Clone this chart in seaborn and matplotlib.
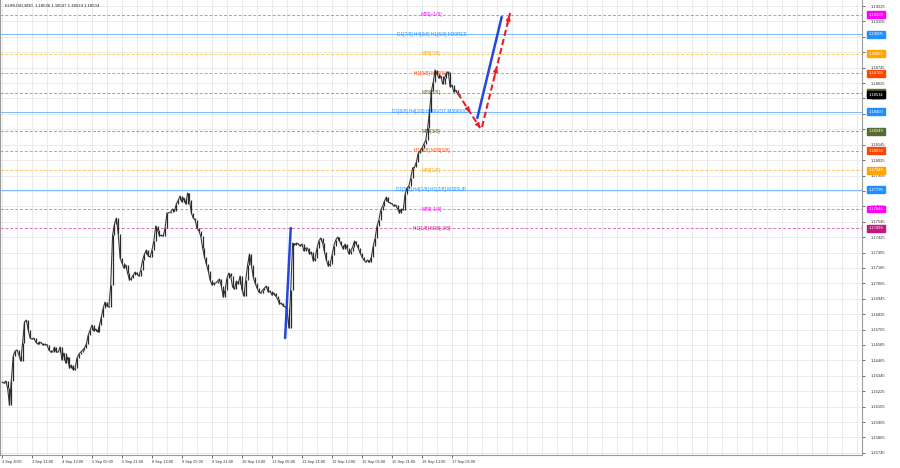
import matplotlib
matplotlib.use("Agg")
import matplotlib.pyplot as plt
import seaborn as sns
import numpy as np
import pandas as pd

# ---------------- data ----------------
# hourly closes (every 2 M30 bars), from 3 Sep 05:00
closes = [
    1.16296, 1.16288, 1.16304, 1.16250, 1.16117, 1.16304, 1.16499, 1.16538, 1.16546, 1.16507,
    1.16460, 1.16600, 1.16764, 1.16779, 1.16701, 1.16639, 1.16631, 1.16639, 1.16608, 1.16592,
    1.16608, 1.16600, 1.16584, 1.16592, 1.16584, 1.16546, 1.16530, 1.16530, 1.16569, 1.16530,
    1.16530, 1.16569, 1.16468, 1.16522, 1.16444, 1.16491, 1.16405, 1.16429, 1.16390, 1.16405,
    1.16483, 1.16514, 1.16530, 1.16546, 1.16561, 1.16592, 1.16662, 1.16701, 1.16740, 1.16694,
    1.16709, 1.16686, 1.16740, 1.16803, 1.16873, 1.16919, 1.16888, 1.16881, 1.17052, 1.17441,
    1.17527, 1.17574, 1.17449, 1.17262, 1.17223, 1.17184, 1.17208, 1.17145, 1.17091, 1.17106,
    1.17130, 1.17153, 1.17137, 1.17122, 1.17169, 1.17247, 1.17293, 1.17325, 1.17278, 1.17270,
    1.17325, 1.17395, 1.17512, 1.17480, 1.17434, 1.17441, 1.17434, 1.17496, 1.17613, 1.17613,
    1.17621, 1.17644, 1.17628, 1.17683, 1.17714, 1.17745, 1.17698, 1.17730, 1.17683, 1.17769,
    1.17714, 1.17613, 1.17574, 1.17558, 1.17496, 1.17473, 1.17434, 1.17340, 1.17270, 1.17215,
    1.17161, 1.17091, 1.17052, 1.17067, 1.17067, 1.17083, 1.17099, 1.17044, 1.16958, 1.17013,
    1.17106, 1.17145, 1.17122, 1.17036, 1.17021, 1.17083, 1.17060, 1.17122, 1.17013, 1.16966,
    1.17091, 1.17208, 1.17293, 1.17208, 1.17114, 1.17067, 1.17029, 1.16997, 1.16990, 1.17013,
    1.17029, 1.17044, 1.16997, 1.17005, 1.16974, 1.16990, 1.16966, 1.16943, 1.16904, 1.16912,
    1.16888, 1.16881, 1.16865, 1.16717, 1.17013, 1.17379, 1.17363, 1.17379, 1.17371, 1.17356,
    1.17371, 1.17317, 1.17340, 1.17340, 1.17293, 1.17309, 1.17239, 1.17262, 1.17340, 1.17395,
    1.17418, 1.17379, 1.17309, 1.17247, 1.17200, 1.17215, 1.17286, 1.17356, 1.17402, 1.17426,
    1.17395, 1.17363, 1.17332, 1.17371, 1.17340, 1.17293, 1.17317, 1.17348, 1.17395, 1.17371,
    1.17340, 1.17301, 1.17270, 1.17247, 1.17231, 1.17247, 1.17231, 1.17270, 1.17356, 1.17418,
    1.17512, 1.17558, 1.17636, 1.17667, 1.17706, 1.17737, 1.17698, 1.17691, 1.17683, 1.17667,
    1.17675, 1.17644, 1.17613, 1.17644, 1.17636, 1.17761, 1.17808, 1.17823, 1.17885, 1.17963,
    1.17971, 1.18010, 1.18080, 1.18096, 1.18119, 1.18150, 1.18181, 1.18275, 1.18400, 1.18563,
    1.18633, 1.18727, 1.18696, 1.18664, 1.18680, 1.18618, 1.18664, 1.18703, 1.18711, 1.18594,
    1.18610, 1.18555, 1.18571, 1.18540, 1.18534,
]
bars_per_sample = 2

x_labels = ["3 Sep 2025", "3 Sep 21:00", "4 Sep 13:00", "5 Sep 05:00", "5 Sep 21:00",
            "8 Sep 13:00", "9 Sep 05:00", "9 Sep 21:00", "10 Sep 13:00", "11 Sep 05:00",
            "11 Sep 21:00", "12 Sep 13:00", "15 Sep 05:00", "15 Sep 21:00", "16 Sep 13:00",
            "17 Sep 05:00"]
bars_per_label = 32

y_ticks = [1.19225, 1.19105, 1.18985, 1.18865, 1.18745, 1.18625, 1.18505, 1.18385, 1.18265,
           1.18145, 1.18025, 1.17905, 1.17785, 1.17665, 1.17545, 1.17425, 1.17305, 1.17185,
           1.17065, 1.16945, 1.16825, 1.16705, 1.16585, 1.16465, 1.16345, 1.16225, 1.16105,
           1.15985, 1.15865, 1.15745]

level_values = [1.19156, 1.19005, 1.18854, 1.18703, 1.18551, 1.18400,
                1.18249, 1.18098, 1.17946, 1.17795, 1.17644, 1.17493]
level_names = ["M30[+1/8]", "D1[7/8] H4[3/8] H1[6/8] M30RES", "M30[7/8]",
               "H1[5/8] M30[6/8]", "M30[5/8]", "D1[6/8] H4[2/8] H1PIVOT M30PIVOT",
               "M30[3/8]", "H1[3/8] M30[2/8]", "M30[1/8]",
               "D1[5/8] H4[1/8] H1[2/8] M30SUP", "M30[-1/8]", "H1[1/8] M30[-2/8]"]
level_colors = ["#ff00ff", "#1e90ff", "#ffa500", "#ff4500", "#556b2f", "#1e90ff",
                "#556b2f", "#ff4500", "#ffa500", "#1e90ff", "#ff00ff", "#c71585"]
level_solid = [False, True, False, False, False, True, False, False, False, True, False, False]

last_price = 1.18534
title_text = "EURUSD,M30  1.18536 1.18537 1.18524 1.18534"

# forecast strokes (bar index, price)
blue_left_bars = [302, 308]
blue_left_prices = [1.16639, 1.17496]
blue_right_bars = [507, 533]
blue_right_prices = [1.18353, 1.19140]
red_down_bars = [486, 510]
red_down_prices = [1.18548, 1.18275]
red_up_bars = [512, 542]
red_up_prices = [1.18283, 1.19171]

# ---------------- plot ----------------
sns.set_theme(style="white")
plt.rcParams["font.family"] = ["Liberation Sans", "DejaVu Sans"]

fig = plt.figure(figsize=(9, 4.68), dpi=100)
ax = fig.add_axes([0.0, 13 / 468, 862 / 900, 455 / 468])

df = pd.DataFrame({"bar": np.arange(len(closes)) * bars_per_sample, "close": closes})

ax.set_xlim(-2.1, 917.3)
ax.set_ylim(1.15728, 1.19272)

# grid
ax.set_xticks(np.arange(len(x_labels)) * bars_per_label)
ax.set_xticks(np.arange(0, 918, bars_per_label // 2), minor=True)
ax.set_yticks(y_ticks)
ax.grid(which="both", axis="x", color="#e8e8e8", lw=0.6, ls="-")
ax.grid(which="major", axis="y", color="#e8e8e8", lw=0.6, ls="-")

# levels
label_bar = 458
for val, name, col, solid in zip(level_values, level_names, level_colors, level_solid):
    ax.axhline(val, color=col, lw=0.7, ls="-" if solid else (0, (3, 2)),
               alpha=0.6, zorder=1)
    ax.text(label_bar, val, name, color=col, fontsize=3.4, ha="center", va="center", zorder=3)

# price
sns.lineplot(data=df, x="bar", y="close", ax=ax, color="#3a3a3a", lw=0.8, zorder=4)
ax.vlines(df["bar"][1:], df["close"].values[:-1], df["close"].values[1:],
          color="#2a2a2a", lw=0.9, zorder=4)

# forecast strokes
ax.plot(blue_left_bars, blue_left_prices, color="#2545e0", lw=1.8, zorder=5)
ax.plot(blue_right_bars, blue_right_prices, color="#2545e0", lw=1.8, zorder=5)
for bx, py in ((red_down_bars, red_down_prices), (red_up_bars, red_up_prices)):
    ax.plot(bx, py, color="#ee1c24", lw=1.5, ls=(0, (3, 1.5)), zorder=5)
    for frac in (0.55, 1.0):
        xe = bx[0] + (bx[1] - bx[0]) * frac
        ye = py[0] + (py[1] - py[0]) * frac
        xs = bx[0] + (bx[1] - bx[0]) * (frac - 0.12)
        ys = py[0] + (py[1] - py[0]) * (frac - 0.12)
        ax.annotate("", xy=(xe, ye), xytext=(xs, ys),
                    arrowprops=dict(arrowstyle="-|>", color="#ee1c24", lw=1.2, mutation_scale=6),
                    zorder=6)

ax.set_xlabel("")
ax.set_ylabel("")

# axes labels
ax.yaxis.tick_right()
ax.set_yticklabels([f"{v:.5f}" for v in y_ticks])
ax.tick_params(axis="y", which="major", right=True, length=2, width=0.5, pad=4,
               labelsize=3.0, colors="#333333")
ax.set_xticklabels(x_labels, ha="left")
ax.tick_params(axis="x", which="major", bottom=True, length=2, width=0.5, pad=1.5,
               labelsize=2.8, colors="#333333")
ax.tick_params(axis="x", which="minor", bottom=False)

ax.spines["top"].set_visible(False)
for side in ("left", "right", "bottom"):
    ax.spines[side].set_color("#9a9a9a")
    ax.spines[side].set_linewidth(0.8)

# value boxes on price axis
for val, col in zip(level_values, level_colors):
    ax.annotate(f"{val:.5f}", xy=(1.0, val), xycoords=("axes fraction", "data"),
                xytext=(5, 0), textcoords="offset points", fontsize=3.0, color="white",
                va="center", ha="left",
                bbox=dict(boxstyle="square,pad=0.35", fc=col, ec=col), zorder=10,
                annotation_clip=False)
ax.annotate(f"{last_price:.5f}", xy=(1.0, last_price), xycoords=("axes fraction", "data"),
            xytext=(5, 0), textcoords="offset points", fontsize=3.0, color="white",
            va="center", ha="left",
            bbox=dict(boxstyle="square,pad=0.35", fc="black", ec="black"), zorder=11,
            annotation_clip=False)

ax.text(0.006, 0.992, title_text, transform=ax.transAxes, fontsize=3.1, color="#222222",
        ha="left", va="top")

fig.savefig("out.png", dpi=100)
